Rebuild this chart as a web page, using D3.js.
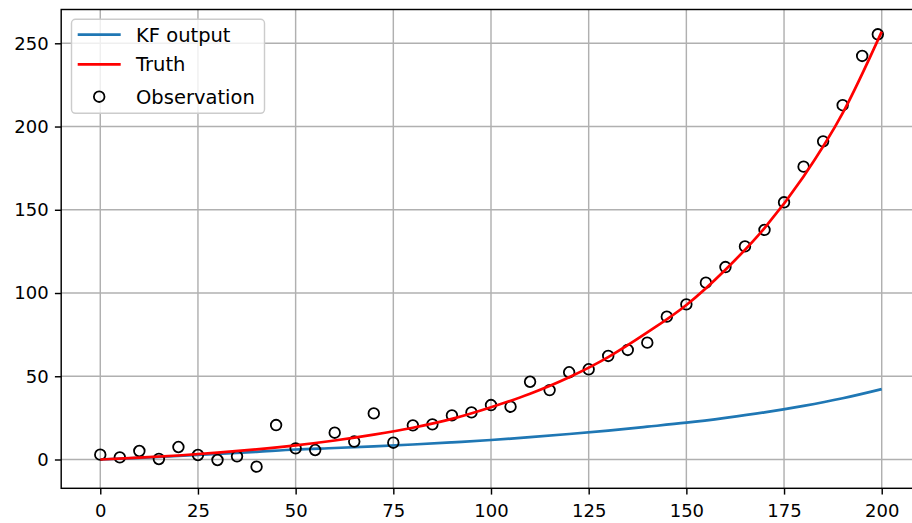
<!DOCTYPE html>
<html>
<head>
<meta charset="utf-8">
<script src="https://cdn.jsdelivr.net/npm/d3@7"></script>
<style>
  html, body { margin: 0; padding: 0; background: #fff; }
  svg { display: block; font-family: "DejaVu Sans", sans-serif; }
</style>
</head>
<body>
<div id="container"></div>
<script>
// values
const truthX = [0, 10, 20, 30, 40, 50, 60, 70, 80, 90, 100, 110, 120, 130, 140, 150, 160, 170, 180, 190, 200];
const truthY = [0, 1.1, 2.4, 4.1, 6.1, 8.5, 11.4, 14.9, 19.1, 24.4, 31.4, 39.5, 49.4, 61.5, 76.3, 92.8, 114, 139, 170, 208, 257];

const kfX = [0, 10, 20, 30, 40, 50, 60, 70, 80, 90, 100, 110, 120, 130, 140, 150, 160, 170, 180, 190, 200];
const kfY = [0, 1.0, 2.1, 3.3, 4.6, 6.0, 6.9, 7.9, 9.0, 10.3, 11.7, 13.4, 15.3, 17.4, 19.7, 22.1, 25.0, 28.3, 32.2, 36.8, 42.3];

const obsX = [0, 5, 10, 15, 20, 25, 30, 35, 40, 45, 50, 55, 60, 65, 70, 75, 80, 85, 90, 95,
  100, 105, 110, 115, 120, 125, 130, 135, 140, 145, 150, 155, 160, 165, 170, 175, 180, 185, 190, 195, 199];
const obsY = [2.9, 1.3, 5.1, 0.3, 7.5, 2.7, -0.3, 1.9, -4.3, 20.7, 6.7, 5.7, 16.1, 10.8, 27.7, 10.1, 20.5, 21.1, 26.5, 28.3,
  32.7, 31.7, 46.7, 41.7, 52.4, 54.2, 62.2, 65.8, 70.2, 85.8, 93.2, 106.2, 115.6, 128.0, 137.9, 154.5, 175.9, 191.1, 212.8, 242.4, 255.4];

const xTicks = [0, 25, 50, 75, 100, 125, 150, 175, 200];
const yTicks = [0, 50, 100, 150, 200, 250];
const legendLabels = ['KF output', 'Truth', 'Observation'];

const w = 912;
const h = 523;
const lw = 1.44; // 0.8pt

const svg = d3.select('#container').append('svg')
  .attr('width', w)
  .attr('height', h);

svg.append('rect').attr('width', w).attr('height', h).attr('fill', '#fff');

const x = d3.scaleLinear().domain([-10, 210]).range([61.2, 920.8]);
const y = d3.scaleLinear().domain([-17.3, 270.3]).range([488.3, 9.5]);

const [x0, x1] = x.range();
const [y0, y1] = y.range();

svg.append('clipPath').attr('id', 'clip')
  .append('rect')
  .attr('x', x0).attr('y', y1)
  .attr('width', x1 - x0).attr('height', y0 - y1);

// grid
const grid = svg.append('g').attr('stroke', '#b0b0b0').attr('stroke-width', lw);
grid.selectAll('.gx').data(xTicks).enter().append('line')
  .attr('x1', d => x(d)).attr('x2', d => x(d))
  .attr('y1', y0).attr('y2', y1);
grid.selectAll('.gy').data(yTicks).enter().append('line')
  .attr('x1', x0).attr('x2', x1)
  .attr('y1', d => y(d)).attr('y2', d => y(d));

const plot = svg.append('g').attr('clip-path', 'url(#clip)');

const kf = kfX.map((d, i) => [d, kfY[i]]);
const truth = truthX.map((d, i) => [d, truthY[i]]);
const obs = obsX.map((d, i) => [d, obsY[i]]);

const line = d3.line()
  .x(d => x(d[0]))
  .y(d => y(d[1]))
  .curve(d3.curveMonotoneX);

plot.append('path')
  .datum(kf)
  .attr('d', line)
  .attr('fill', 'none')
  .attr('stroke', '#1f77b4')
  .attr('stroke-width', 2.7);

plot.selectAll('circle')
  .data(obs)
  .enter()
  .append('circle')
  .attr('cx', d => x(d[0]))
  .attr('cy', d => y(d[1]))
  .attr('r', 5.3)
  .attr('fill', 'none')
  .attr('stroke', '#000')
  .attr('stroke-width', 1.8);

plot.append('path')
  .datum(truth)
  .attr('d', line)
  .attr('fill', 'none')
  .attr('stroke', '#ff0000')
  .attr('stroke-width', 2.7);

// axes
const xAxis = svg.append('g')
  .attr('transform', `translate(0,${y0})`)
  .call(d3.axisBottom(x).tickValues(xTicks).tickSize(6.3).tickPadding(9.5));
const yAxis = svg.append('g')
  .attr('transform', `translate(${x0},0)`)
  .call(d3.axisLeft(y).tickValues(yTicks).tickSize(6.3).tickPadding(6.3));

[xAxis, yAxis].forEach(a => {
  a.select('.domain').remove();
  a.selectAll('.tick line').attr('stroke', '#000').attr('stroke-width', lw);
  a.selectAll('.tick text')
    .attr('fill', '#000')
    .style('font-size', '18px')
    .style('font-family', '"DejaVu Sans", sans-serif');
});

// spines
svg.append('rect')
  .attr('x', x0).attr('y', y1)
  .attr('width', x1 - x0).attr('height', y0 - y1)
  .attr('fill', 'none')
  .attr('stroke', '#000')
  .attr('stroke-width', lw);

// legend
const lg = svg.append('g');
lg.append('rect')
  .attr('x', 71.5).attr('y', 19.3)
  .attr('width', 193).attr('height', 94)
  .attr('rx', 4)
  .attr('fill', '#fff').attr('fill-opacity', 0.8)
  .attr('stroke', '#cccccc').attr('stroke-width', 1.44);

const rowY = [34.7, 64.3, 96.7];
const colors = ['#1f77b4', '#ff0000'];
lg.selectAll('.hl').data(colors).enter().append('line')
  .attr('x1', 77.7).attr('x2', 120.7)
  .attr('y1', (d, i) => rowY[i]).attr('y2', (d, i) => rowY[i])
  .attr('stroke', d => d)
  .attr('stroke-width', 2.7);
lg.append('circle')
  .attr('cx', 99.2).attr('cy', rowY[2])
  .attr('r', 5.3)
  .attr('fill', 'none')
  .attr('stroke', '#000')
  .attr('stroke-width', 1.8);
lg.selectAll('text').data(legendLabels).enter().append('text')
  .attr('x', 136)
  .attr('y', (d, i) => rowY[i])
  .attr('dy', '0.36em')
  .style('font-size', '19.5px')
  .attr('fill', '#000')
  .text(d => d);
</script>
</body>
</html>
